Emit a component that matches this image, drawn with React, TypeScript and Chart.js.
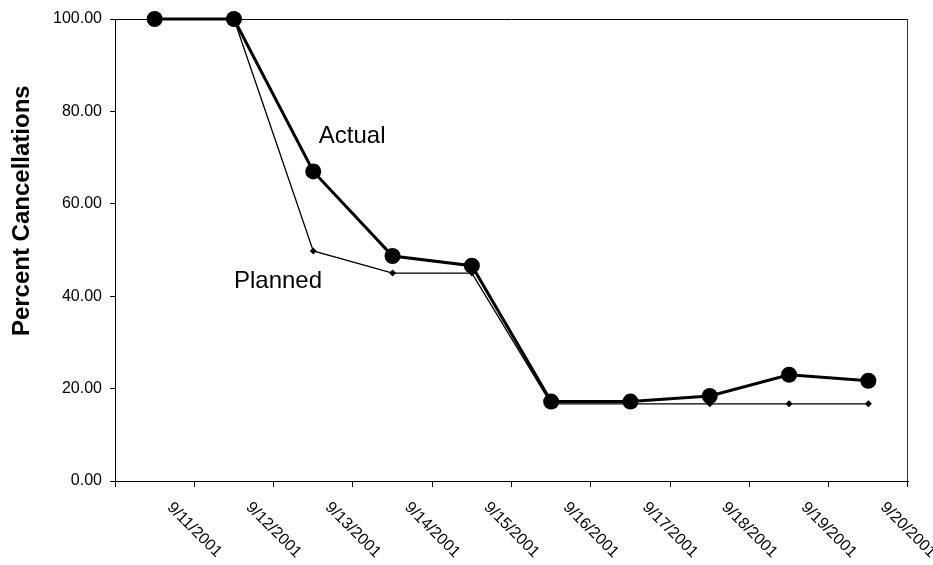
import React, { useEffect, useRef } from "react";
import { Chart, registerables } from "chart.js";

Chart.register(...registerables);

const categories = [
  "9/11/2001", "9/12/2001", "9/13/2001", "9/14/2001", "9/15/2001",
  "9/16/2001", "9/17/2001", "9/18/2001", "9/19/2001", "9/20/2001",
];
const actualValues = [100, 100, 67, 48.7, 46.6, 17.2, 17.2, 18.4, 23.0, 21.7];
const plannedValues = [100, 100, 49.8, 45, 45, 16.7, 16.7, 16.7, 16.7, 16.7];
const yMin = 0;
const yMax = 100;
const yStep = 20;
const yAxisTitle = "Percent Cancellations";
const annotations = [
  { text: "Actual", index: 2.07, value: 73.1 },
  { text: "Planned", index: 1.0, value: 41.8 },
];

const FONT = '"Liberation Sans", Arial, sans-serif';

const customDraw = {
  id: "customDraw",
  afterDraw(chart: any) {
    const ctx = chart.ctx;
    const area = chart.chartArea;
    const xs = chart.scales.x;
    const ys = chart.scales.y;
    ctx.save();
    // top and right borders of the plot area
    ctx.strokeStyle = "#000";
    ctx.lineWidth = 1;
    ctx.beginPath();
    ctx.moveTo(area.left, area.top + 0.5);
    ctx.lineTo(area.right, area.top + 0.5);
    ctx.stroke();
    ctx.strokeStyle = "#333";
    ctx.beginPath();
    ctx.moveTo(area.right - 0.5, area.top);
    ctx.lineTo(area.right - 0.5, area.bottom);
    ctx.stroke();

    // rotated x labels (clockwise), centred on the right boundary of each category
    const step = xs.getPixelForValue(1) - xs.getPixelForValue(0);
    ctx.fillStyle = "#000";
    ctx.font = `16px ${FONT}`;
    ctx.textAlign = "center";
    ctx.textBaseline = "middle";
    categories.forEach((lab, i) => {
      const x = xs.getPixelForValue(i) + step / 2;
      const y = area.bottom + 49;
      ctx.save();
      ctx.translate(x, y);
      ctx.rotate(Math.PI / 4);
      ctx.fillText(lab, 0, 0);
      ctx.restore();
    });

    // series annotations
    ctx.font = `24px ${FONT}`;
    ctx.textAlign = "left";
    ctx.textBaseline = "alphabetic";
    annotations.forEach((a) => {
      const x = xs.getPixelForValue(0) + a.index * step;
      const y = ys.getPixelForValue(a.value);
      ctx.fillText(a.text, x, y);
    });

    // y axis title
    ctx.font = `bold 24px ${FONT}`;
    ctx.textAlign = "center";
    ctx.textBaseline = "middle";
    ctx.save();
    ctx.translate(22, area.top + (area.bottom - area.top) * 0.415);
    ctx.rotate(-Math.PI / 2);
    ctx.fillText(yAxisTitle, 0, 0);
    ctx.restore();
    ctx.restore();
  },
};

export default function App() {
  const ref = useRef<HTMLCanvasElement | null>(null);
  useEffect(() => {
    document.body.style.margin = "0";
    const canvas = ref.current;
    if (!canvas) return;
    const chart = new Chart(canvas, {
      type: "line",
      data: {
        labels: categories,
        datasets: [
          {
            label: "Actual",
            data: actualValues,
            borderColor: "#000",
            backgroundColor: "#000",
            borderWidth: 3,
            pointRadius: 8,
            pointStyle: "circle",
            pointBorderWidth: 0,
            tension: 0,
            clip: false,
          } as any,
          {
            label: "Planned",
            data: plannedValues,
            borderColor: "#000",
            backgroundColor: "#000",
            borderWidth: 1.3,
            pointRadius: 3.5,
            pointStyle: "rectRot",
            pointBorderWidth: 0,
            tension: 0,
            clip: false,
          } as any,
        ],
      },
      options: {
        animation: false,
        responsive: true,
        maintainAspectRatio: false,
        layout: { padding: { top: 19, right: 25, left: 0, bottom: 0 } },
        plugins: {
          legend: { display: false },
          tooltip: { enabled: false },
          title: { display: false },
        },
        scales: {
          x: {
            type: "category",
            offset: true,
            grid: {
              display: true,
              offset: true,
              drawOnChartArea: false,
              drawTicks: true,
              tickLength: 6,
              color: "#000",
            },
            border: { display: true, color: "#000", width: 1 },
            ticks: { display: false },
            afterFit: (s: any) => {
              s.height = 84;
            },
          },
          y: {
            min: yMin,
            max: yMax,
            grid: {
              display: true,
              drawOnChartArea: false,
              drawTicks: true,
              tickLength: 5,
              color: "#000",
            },
            border: { display: true, color: "#000", width: 1 },
            ticks: {
              stepSize: yStep,
              color: "#000",
              font: { family: FONT, size: 16 },
              padding: 8,
              callback: (v: any) => Number(v).toFixed(2),
            },
            afterFit: (s: any) => {
              s.width = 115;
            },
          },
        },
      },
      plugins: [customDraw],
    });
    return () => chart.destroy();
  }, []);
  return (
    <div style={{ position: "relative", width: 933, height: 565, background: "#fff" }}>
      <canvas ref={ref} />
    </div>
  );
}
